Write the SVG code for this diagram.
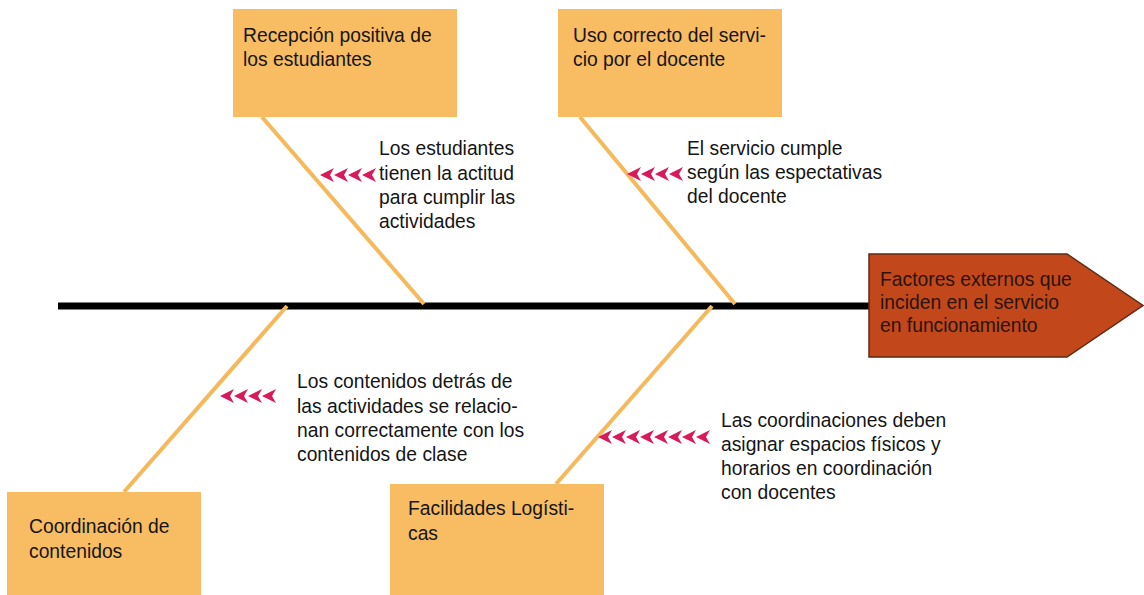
<svg xmlns="http://www.w3.org/2000/svg" width="1144" height="595" viewBox="0 0 1144 595">
<defs>
<style>
.box{fill:#f8bd62;stroke:none}
.bone{stroke:#f5b95c;stroke-width:4;fill:none}
.spine{stroke:#000;stroke-width:7}
.t{font-family:"Liberation Sans",Arial,sans-serif;font-size:19.3px;fill:#151515}
.ht{font-family:"Liberation Sans",Arial,sans-serif;font-size:19.3px;fill:#2a140a}
.ar{fill:#d8195c}
</style>
<path id="a" d="M0,0 L14,-7 L10,0 L14,7 Z"/>
</defs>
<rect width="1144" height="595" fill="#fff"/>
<g id="connectors">
<line class="spine" x1="58" y1="306" x2="872" y2="306"/>
<line class="bone" x1="262" y1="117" x2="424" y2="304"/>
<line class="bone" x1="580" y1="117" x2="735" y2="304"/>
<line class="bone" x1="287" y1="306" x2="124" y2="492"/>
<line class="bone" x1="712" y1="306" x2="556" y2="484"/>
</g>
<g id="head">
<path d="M869,254 L1067,254 L1143,305.5 L1067,357 L869,357 Z" fill="#c2481c" stroke="#5e2a12" stroke-width="1.5"/>
<text class="ht" x="880" y="286">Factores externos que</text>
<text class="ht" x="880" y="309">inciden en el servicio</text>
<text class="ht" x="880" y="332">en funcionamiento</text>
</g>
<g id="cause1">
<rect class="box" x="233" y="9" width="224" height="108"/>
<text class="t" x="243" y="42">Recepción positiva de</text>
<text class="t" x="243" y="66">los estudiantes</text>
</g>
<g id="cause2">
<rect class="box" x="558" y="9" width="224" height="108"/>
<text class="t" x="573" y="42">Uso correcto del servi-</text>
<text class="t" x="573" y="66">cio por el docente</text>
</g>
<g id="cause3">
<rect class="box" x="7" y="492" width="194" height="103"/>
<text class="t" x="29" y="533">Coordinación de</text>
<text class="t" x="29" y="558">contenidos</text>
</g>
<g id="cause4">
<rect class="box" x="390" y="484" width="214" height="111"/>
<text class="t" x="408" y="515">Facilidades Logísti-</text>
<text class="t" x="408" y="540">cas</text>
</g>
<g id="note1">
<g class="ar">
<use href="#a" x="320" y="175"/><use href="#a" x="334" y="175"/><use href="#a" x="348" y="175"/><use href="#a" x="362" y="175"/>
</g>
<text class="t" x="379" y="155">Los estudiantes</text>
<text class="t" x="379" y="180">tienen la actitud</text>
<text class="t" x="379" y="204">para cumplir las</text>
<text class="t" x="379" y="228">actividades</text>
</g>
<g id="note2">
<g class="ar">
<use href="#a" x="627" y="174"/><use href="#a" x="641" y="174"/><use href="#a" x="655" y="174"/><use href="#a" x="669" y="174"/>
</g>
<text class="t" x="687" y="155">El servicio cumple</text>
<text class="t" x="687" y="179">según las espectativas</text>
<text class="t" x="687" y="203">del docente</text>
</g>
<g id="note3">
<g class="ar">
<use href="#a" x="220" y="396"/><use href="#a" x="234" y="396"/><use href="#a" x="248" y="396"/><use href="#a" x="262" y="396"/>
</g>
<text class="t" x="297" y="388">Los contenidos detrás de</text>
<text class="t" x="297" y="413">las actividades se relacio-</text>
<text class="t" x="297" y="437">nan correctamente con los</text>
<text class="t" x="297" y="461">contenidos de clase</text>
</g>
<g id="note4">
<g class="ar">
<use href="#a" x="598" y="437"/><use href="#a" x="612" y="437"/><use href="#a" x="626" y="437"/><use href="#a" x="640" y="437"/><use href="#a" x="654" y="437"/><use href="#a" x="668" y="437"/><use href="#a" x="682" y="437"/><use href="#a" x="696" y="437"/>
</g>
<text class="t" x="721" y="427">Las coordinaciones deben</text>
<text class="t" x="721" y="451">asignar espacios físicos y</text>
<text class="t" x="721" y="475">horarios en coordinación</text>
<text class="t" x="721" y="499">con docentes</text>
</g>
</svg>
